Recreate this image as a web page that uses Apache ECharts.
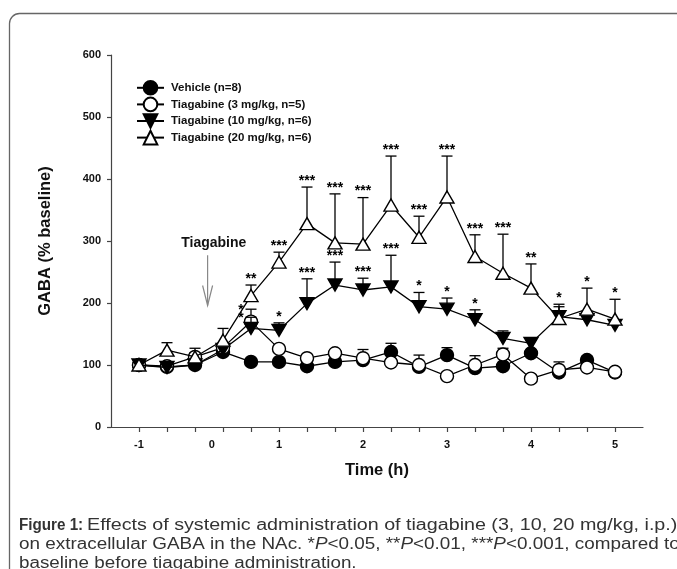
<!DOCTYPE html>
<html>
<head>
<meta charset="utf-8">
<script src="https://cdn.jsdelivr.net/npm/echarts@6/dist/echarts.min.js"></script>
<style>
  html, body { margin: 0; padding: 0; background: #fff; }
  #chart { width: 677px; height: 569px; }
</style>
</head>
<body>
<div id="chart"></div>
<script>
// samples every 20 min, x = sample index
const samples = [0, 1, 2, 3, 4, 5, 6, 7, 8, 9, 10, 11, 12, 13, 14, 15, 16, 17];
const labelPos = [0, 2.6, 5, 8, 11, 14, 17];
const labelText = ['-1', '0', '1', '2', '3', '4', '5'];

const names = ['Vehicle (n=8)', 'Tiagabine (3 mg/kg, n=5)', 'Tiagabine (10 mg/kg, n=6)', 'Tiagabine (20 mg/kg, n=6)'];

const vehicle    = [100, 97, 100, 121, 105, 105, 98, 105, 108, 121, 97, 116, 95, 98, 119, 88, 108, 88];
const vehicleTop = [104, 102, 105, 133, 110, 110, 103, 111, 114, 135, 103, 128, 100, 104, 124, 94, 114, 93];
const mg3        = [100, 98, 113, 128, 170, 126, 111, 119, 111, 104, 100, 82, 100, 117, 78, 92, 96, 89];
const mg3Top     = [104, 102, 120, 134, 190, 132, 116, 124, 125, 110, 116, 88, 115, 127, 84, 105, 102, 94];
const mg10       = [100, 96, 100, 125, 159, 156, 199, 229, 221, 226, 194, 190, 173, 143, 135, 178, 173, 164];
const mg10Top    = [104, 102, 106, 133, 177, 168, 239, 266, 240, 277, 217, 208, 189, 155, 140, 194, 180, 170];
const mg20       = [100, 124, 113, 140, 212, 266, 328, 297, 295, 358, 306, 371, 275, 248, 224, 175, 190, 174];
const mg20Top    = [105, 136, 127, 159, 229, 282, 387, 376, 370, 437, 340, 437, 310, 311, 263, 198, 224, 206];

const sigVehicle = samples.map(() => '');
const sig3  = ['', '', '', '', '*', '', '', '', '', '', '', '', '', '', '', '', '', ''];
const sig10 = ['', '', '', '', '*', '*', '***', '***', '***', '***', '*', '*', '*', '', '', '', '', ''];
const sig20 = ['', '', '', '', '**', '***', '***', '***', '***', '***', '***', '***', '***', '***', '**', '*', '*', '*'];
// stars that sit beside the bar (crowded spot)
const sideStars = [4];

// injection arrow (x in sample units, y in % baseline)
const arrowX = 2.45, arrowFrom = 277, arrowTo = 196;
const arrowLabel = 'Tiagabine', arrowLabelX = 2.67, arrowLabelY = 296;

const font = 'Liberation Sans, Arial, sans-serif';

const chart = echarts.init(document.getElementById('chart'));

function lineSeries(name, vals, symbol, fill, rotate, size, z) {
    return {
        name: name,
        type: 'line',
        data: vals.map((v, i) => [samples[i], v]),
        symbol: symbol,
        symbolSize: size,
        symbolRotate: rotate,
        z: z,
        lineStyle: {color: '#000', width: 1.3},
        itemStyle: {color: fill, borderColor: '#000', borderWidth: 1.4},
        emphasis: {disabled: true}
    };
}

function errSeries(vals, tops, sig, side, z) {
    return {
        type: 'custom',
        z: z,
        silent: true,
        data: vals.map((v, i) => [samples[i], v, tops[i]]),
        renderItem: function (params, api) {
            const p0 = api.coord([api.value(0), api.value(1)]);
            const p1 = api.coord([api.value(0), api.value(2)]);
            const s = sig[params.dataIndex];
            const kids = [
                {type: 'line', shape: {x1: p0[0], y1: p0[1], x2: p1[0], y2: p1[1]}, style: {stroke: '#000', lineWidth: 1.3}},
                {type: 'line', shape: {x1: p1[0] - 5.5, y1: p1[1], x2: p1[0] + 5.5, y2: p1[1]}, style: {stroke: '#000', lineWidth: 1.3}}
            ];
            if (s) {
                const beside = side && sideStars.indexOf(params.dataIndex) > -1;
                kids.push({
                    type: 'text',
                    style: {
                        text: s, x: beside ? p1[0] - 10 : p1[0], y: beside ? p1[1] + 1 : p1[1] - 6,
                        align: 'center', verticalAlign: 'middle',
                        font: 'bold 14px ' + font, fill: '#000'
                    }
                });
            }
            return {type: 'group', children: kids};
        }
    };
}

chart.setOption({
    animation: false,
    grid: {left: 111, right: 34, top: 55, bottom: 142},
    legend: {
        orient: 'vertical',
        left: 136,
        top: 80,
        padding: 0,
        itemWidth: 27,
        itemHeight: 17,
        itemGap: 1,
        selectedMode: false,
        textStyle: {fontFamily: font, fontWeight: 'bold', fontSize: 11.5, color: '#111', padding: [0, 0, 0, 2]},
        data: names
    },
    xAxis: {
        type: 'value',
        min: -1,
        max: 18,
        axisLine: {onZero: false, lineStyle: {color: '#444', width: 1.2}},
        axisTick: {show: true, customValues: samples, length: 5, lineStyle: {color: '#444', width: 1.2}},
        axisLabel: {
            customValues: labelPos,
            formatter: v => labelText[labelPos.indexOf(v)],
            fontFamily: font, fontWeight: 'bold', fontSize: 11, color: '#111', margin: 12
        },
        splitLine: {show: false},
        name: 'Time (h)',
        nameLocation: 'middle',
        nameGap: 35,
        nameTextStyle: {fontFamily: font, fontWeight: 'bold', fontSize: 16.5, color: '#111'}
    },
    yAxis: {
        type: 'value',
        min: 0,
        max: 600,
        interval: 100,
        axisLine: {show: true, onZero: false, lineStyle: {color: '#444', width: 1.2}},
        axisTick: {show: true, length: 4, lineStyle: {color: '#444', width: 1.2}},
        axisLabel: {fontFamily: font, fontWeight: 'bold', fontSize: 11, color: '#111', margin: 10},
        splitLine: {show: false},
        name: 'GABA (% baseline)',
        nameLocation: 'middle',
        nameGap: 57,
        nameTextStyle: {fontFamily: font, fontWeight: 'bold', fontSize: 16.5, color: '#111'}
    },
    series: [
        errSeries(vehicle, vehicleTop, sigVehicle, false, 1),
        lineSeries(names[0], vehicle, 'circle', '#000', 0, 13, 2),
        errSeries(mg3, mg3Top, sig3, true, 3),
        lineSeries(names[1], mg3, 'circle', '#fff', 0, 13, 4),
        errSeries(mg10, mg10Top, sig10, true, 5),
        lineSeries(names[2], mg10, 'triangle', '#000', 180, [14, 12], 6),
        errSeries(mg20, mg20Top, sig20, false, 7),
        lineSeries(names[3], mg20, 'triangle', '#fff', 0, [14, 12], 8)
    ]
});

// annotation: frame, arrow, caption
const a0 = chart.convertToPixel({gridIndex: 0}, [arrowX, arrowFrom]);
const a1 = chart.convertToPixel({gridIndex: 0}, [arrowX, arrowTo]);
const lb = chart.convertToPixel({gridIndex: 0}, [arrowLabelX, arrowLabelY]);
const capFont = '16px ' + font;

function capLine(x, y, sx, text, rich) {
    return {type: 'text', x: x, y: y, scaleX: sx, style: {
        text: text, verticalAlign: 'middle', font: capFont, fill: '#333', rich: rich || {}
    }};
}

chart.setOption({
    graphic: [
        {type: 'rect', shape: {x: 9.5, y: 13.5, width: 900, height: 800, r: 10}, style: {fill: 'none', stroke: '#666', lineWidth: 1.3}, silent: true},
        {type: 'line', shape: {x1: a0[0], y1: a0[1], x2: a1[0], y2: a1[1]}, style: {stroke: '#888', lineWidth: 1.2}},
        {type: 'polyline', shape: {points: [[a1[0] - 5, a1[1] - 20], [a1[0], a1[1]], [a1[0] + 5, a1[1] - 20]]}, style: {stroke: '#888', lineWidth: 1.2, fill: 'none'}},
        {type: 'text', x: lb[0], y: lb[1], style: {text: arrowLabel, align: 'center', verticalAlign: 'middle', font: 'bold 14px ' + font, fill: '#111'}},
        {type: 'text', x: 19, y: 526, scaleX: 0.95, style: {text: 'Figure 1:', verticalAlign: 'middle', font: 'bold 16px ' + font, fill: '#333'}},
        capLine(87, 526, 1.23, 'Effects of systemic administration of tiagabine (3, 10, 20 mg/kg, i.p.)'),
        capLine(19, 545, 1.18, 'on extracellular GABA in the NAc. *{i|P}<0.05, **{i|P}<0.01, ***{i|P}<0.001, compared to',
            {i: {font: 'italic ' + capFont, fill: '#333'}}),
        capLine(19, 564, 1.175, 'baseline before tiagabine administration.')
    ]
});
</script>
</body>
</html>
